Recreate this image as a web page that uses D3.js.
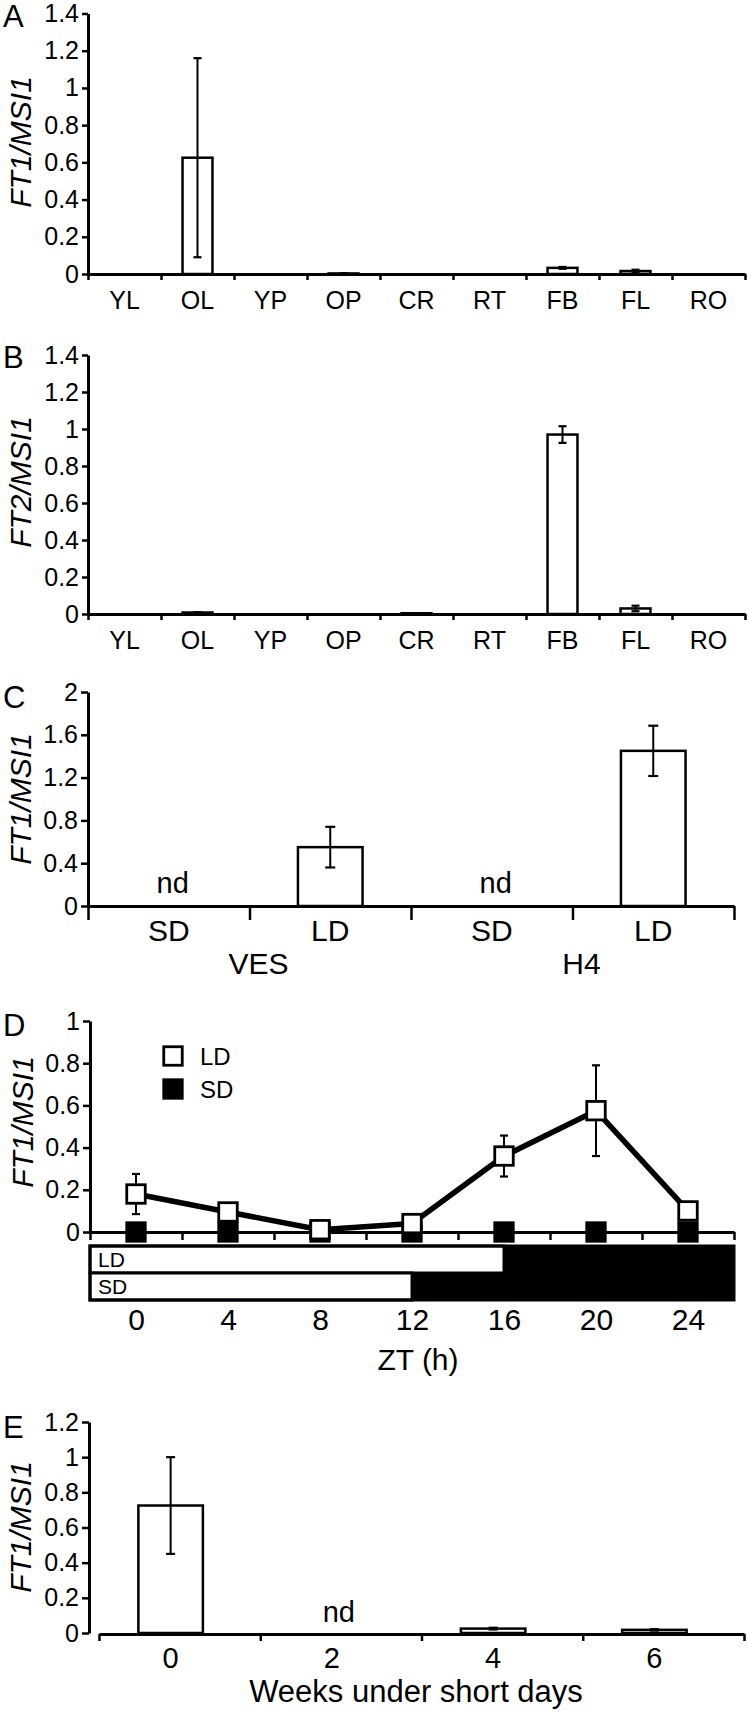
<!DOCTYPE html>
<html><head><meta charset="utf-8">
<script src="https://cdn.jsdelivr.net/npm/d3@7"></script>
<style>
body{margin:0;background:#fff}
svg{display:block}
text{font-family:'Liberation Sans',Arial,Helvetica,sans-serif;fill:#000}
</style>
</head><body><script>
// ---------- data ----------
const tissues = ["YL","OL","YP","OP","CR","RT","FB","FL","RO"];
const ft1Tissue    = [0, 0.625, 0, 0.003, 0, 0, 0.033, 0.016, 0];
const ft1TissueErr = [0, 0.535, 0, 0.001, 0, 0, 0.005, 0.007, 0];
const ft2Tissue    = [0, 0.008, 0, 0, 0.004, 0, 0.97, 0.03, 0];
const ft2TissueErr = [0, 0.002, 0, 0, 0.001, 0, 0.045, 0.015, 0];
const ticksAB = [0,0.2,0.4,0.6,0.8,1,1.2,1.4];

const photoCats   = ["SD","LD","SD","LD"];
const photoGroups = ["VES","H4"];
const ft1Photo    = [null, 0.55, null, 1.45];   // null = nd
const ft1PhotoErr = [0, 0.19, 0, 0.235];
const ticksC = [0,0.4,0.8,1.2,1.6,2];

const ztHours  = [0,4,8,12,16,20,24];
const ldValues = [0.18, 0.095, 0.011, 0.04, 0.36, 0.575, 0.1];
const ldErr    = [0.095, 0.01, 0.005, 0.01, 0.097, 0.215, 0.005];
const sdValues = [0, 0, 0, 0, 0, 0, 0];
const ticksD = [0,0.2,0.4,0.6,0.8,1];
const ztMinorTicks = [-2,2,6,10,14,18,22,26];
const photoNames = ["LD","SD"];
const lightHours = [16, 12];

const weeks       = ["0","2","4","6"];
const ft1Weeks    = [0.725, null, 0.025, 0.018];
const ft1WeeksErr = [0.275, 0, 0.005, 0.004];
const ticksE = [0,0.2,0.4,0.6,0.8,1,1.2];

// ---------- setup ----------
const W = 747, H = 1711;
const svg = d3.select("body").append("svg").attr("width", W).attr("height", H);
svg.append("rect").attr("width", W).attr("height", H).attr("fill", "#fff");
const fmt = d => String(+d.toFixed(1));

function styleAxis(g, domainW, tickW, fs) {
  g.attr("font-family", null).attr("font-size", null);
  g.select(".domain").attr("stroke", "#000").attr("stroke-width", domainW);
  g.selectAll(".tick line").attr("stroke", "#000").attr("stroke-width", tickW);
  g.selectAll(".tick text").attr("font-size", fs).attr("fill", "#000");
  return g;
}
function leftAxis(y, ticks, xPos, fs, tick) {
  const g = svg.append("g").attr("transform", `translate(${xPos},0)`)
    .call(d3.axisLeft(y).tickValues(ticks).tickFormat(fmt).tickSize(tick).tickSizeOuter(0).tickPadding(3));
  return styleAxis(g, 3, 2.5, fs);
}
function boundaryAxis(xb, values, yPos, len) {
  const g = svg.append("g").attr("transform", `translate(0,${yPos})`)
    .call(d3.axisBottom(xb).tickValues(values).tickFormat("").tickSize(len).tickSizeOuter(0));
  return styleAxis(g, 3, 2.5, 10);
}
function labelAxis(scale, yPos, pad, fs, format, values) {
  const ax = d3.axisBottom(scale).tickSize(0).tickPadding(pad);
  if (format) ax.tickFormat(format);
  if (values) ax.tickValues(values);
  const g = svg.append("g").attr("transform", `translate(0,${yPos})`).call(ax);
  g.select(".domain").remove();
  return styleAxis(g, 0, 0, fs);
}
function yTitle(txt, x, y) {
  svg.append("text").attr("transform", `translate(${x},${y}) rotate(-90)`)
    .attr("text-anchor", "middle").attr("font-size", 30).style("font-style", "italic").text(txt);
}
function letter(txt, y) {
  svg.append("text").attr("x", 3).attr("y", y).attr("font-size", 31).text(txt);
}
function bars(band, cats, vals, errs, y, cap) {
  const g = svg.append("g");
  cats.forEach((c, i) => {
    const v = vals[i];
    if (v === null || v === 0) return;
    g.append("rect").attr("x", band(c)).attr("width", band.bandwidth())
      .attr("y", y(v)).attr("height", Math.max(0.1, y(0) - y(v)))
      .attr("fill", "#fff").attr("stroke", "#000").attr("stroke-width", 2.5);
  });
  cats.forEach((c, i) => {
    const v = vals[i], e = errs[i];
    if (v === null || !e) return;
    const cx = band(c) + band.bandwidth() / 2;
    g.append("line").attr("x1", cx).attr("x2", cx).attr("y1", y(v - e)).attr("y2", y(v + e))
      .attr("stroke", "#000").attr("stroke-width", 2);
    [v - e, v + e].forEach(t => g.append("line").attr("x1", cx - cap / 2).attr("x2", cx + cap / 2)
      .attr("y1", y(t)).attr("y2", y(t)).attr("stroke", "#000").attr("stroke-width", 2.2));
  });
}

// ---------- Panel A & B ----------
function tissuePanel(vals, errs, yTop, y0, title, titleY, let, letY) {
  const x0 = 88, x1 = 745;
  const y = d3.scaleLinear().domain([0, 1.4]).range([y0, yTop]);
  const band = d3.scaleBand().domain(tissues).range([x0, x1]).paddingInner(0.59).paddingOuter(0.295);
  const xb = d3.scaleLinear().domain([0, tissues.length]).range([x0, x1]);
  bars(band, tissues, vals, errs, y, 8);
  leftAxis(y, ticksAB, x0, 25, 6);
  boundaryAxis(xb, d3.range(tissues.length + 1), y0, 6);
  labelAxis(band, y0, 17, 25);
  yTitle(title, 31, titleY);
  letter(let, letY);
}
tissuePanel(ft1Tissue, ft1TissueErr, 13.5, 274, "FT1/MSI1", 142, "A", 27);
tissuePanel(ft2Tissue, ft2TissueErr, 355, 614, "FT2/MSI1", 482, "B", 368);

// ---------- Panel C ----------
(function () {
  const x0 = 88, x1 = 734, y0 = 906, yTop = 692;
  const y = d3.scaleLinear().domain([0, 2]).range([y0, yTop]);
  const idx = d3.range(photoCats.length).map(String);
  const band = d3.scaleBand().domain(idx).range([x0, x1]).paddingInner(0.6).paddingOuter(0.3);
  const xb = d3.scaleLinear().domain([0, photoCats.length]).range([x0, x1]);
  bars(band, idx, ft1Photo, ft1PhotoErr, y, 10);
  idx.forEach((c, i) => {
    if (ft1Photo[i] === null)
      svg.append("text").attr("x", band(c) + band.bandwidth() / 2 + 4).attr("y", y0 - 13)
        .attr("text-anchor", "middle").attr("font-size", 29).text("nd");
  });
  leftAxis(y, ticksC, x0, 25, 7);
  boundaryAxis(xb, d3.range(photoCats.length + 1), y0, 14);
  labelAxis(band, y0, 13.5, 30, i => photoCats[+i]);
  photoGroups.forEach((gname, k) => {
    const cx = xb(k * 2 + 1);
    svg.append("text").attr("x", cx + 9).attr("y", 974).attr("text-anchor", "middle")
      .attr("font-size", 30).text(gname);
  });
  yTitle("FT1/MSI1", 31, 799);
  letter("C", 708);
})();

// ---------- Panel D ----------
(function () {
  const y0 = 1232, yTop = 1021;
  const x = d3.scaleLinear().domain([-2, 26]).range([90, 734]);
  const y = d3.scaleLinear().domain([0, 1]).range([y0, yTop]);
  const sq = 18.5;
  // SD squares (behind)
  svg.append("g").selectAll("rect").data(ztHours).join("rect")
    .attr("x", (h) => x(h) - sq / 2).attr("y", (h, i) => y(sdValues[i]) - sq / 2)
    .attr("width", sq).attr("height", sq).attr("fill", "#000").attr("stroke", "#000").attr("stroke-width", 2.8);
  leftAxis(y, ticksD, 90, 25, 7);
  boundaryAxis(x, ztMinorTicks, y0, 8);
  // LD line
  const line = d3.line().x((d) => x(d[0])).y((d) => y(d[1]));
  svg.append("path").datum(ztHours.map((h, i) => [h, ldValues[i]])).attr("d", line)
    .attr("fill", "none").attr("stroke", "#000").attr("stroke-width", 5.5).attr("stroke-linejoin", "round");
  // error bars
  ztHours.forEach((h, i) => {
    const v = ldValues[i], e = ldErr[i], cx = x(h);
    svg.append("line").attr("x1", cx).attr("x2", cx).attr("y1", y(v - e)).attr("y2", y(v + e))
      .attr("stroke", "#000").attr("stroke-width", 2);
    [v - e, v + e].forEach(t => svg.append("line").attr("x1", cx - 4).attr("x2", cx + 4)
      .attr("y1", y(t)).attr("y2", y(t)).attr("stroke", "#000").attr("stroke-width", 2.2));
  });
  svg.append("g").selectAll("rect").data(ztHours).join("rect")
    .attr("x", (h) => x(h) - sq / 2).attr("y", (h, i) => y(ldValues[i]) - sq / 2)
    .attr("width", sq).attr("height", sq).attr("fill", "#fff").attr("stroke", "#000").attr("stroke-width", 2.8);
  // legend
  [["LD", "#fff", 1056], ["SD", "#000", 1089]].forEach(([t, f, cy]) => {
    svg.append("rect").attr("x", 173 - sq / 2).attr("y", cy - sq / 2).attr("width", sq).attr("height", sq)
      .attr("fill", f).attr("stroke", "#000").attr("stroke-width", 2.8);
    svg.append("text").attr("x", 200).attr("y", cy + 8.5).attr("font-size", 24).text(t);
  });
  // photoperiod bars
  const rows = d3.scaleBand().domain(photoNames).range([1246, 1300]);
  photoNames.forEach((n, i) => {
    svg.append("rect").attr("x", x(-2)).attr("y", rows(n)).attr("width", x(26) - x(-2))
      .attr("height", rows.bandwidth()).attr("fill", "#000");
    svg.append("rect").attr("x", x(-2)).attr("y", rows(n)).attr("width", x(lightHours[i]) - x(-2))
      .attr("height", rows.bandwidth()).attr("fill", "#fff").attr("stroke", "#000").attr("stroke-width", 3);
    svg.append("text").attr("x", 98).attr("y", rows(n) + rows.bandwidth() / 2 + 7.5)
      .attr("font-size", 21).text(n);
  });
  svg.append("rect").attr("x", x(-2)).attr("y", 1246).attr("width", x(26) - x(-2)).attr("height", 54)
    .attr("fill", "none").attr("stroke", "#000").attr("stroke-width", 3);
  labelAxis(x, 1300, 8.5, 30, d => String(d), ztHours);
  svg.append("text").attr("x", 418).attr("y", 1370).attr("text-anchor", "middle").attr("font-size", 30).text("ZT (h)");
  yTitle("FT1/MSI1", 33, 1122);
  letter("D", 1036);
})();

// ---------- Panel E ----------
(function () {
  const y0 = 1633, yTop = 1422;
  const y = d3.scaleLinear().domain([0, 1.2]).range([y0, yTop]);
  const xb = d3.scaleLinear().domain([0, weeks.length]).range([99, 744]);
  // bars/labels sit slightly left of the tick intervals, as in the original
  const band = d3.scaleBand().domain(weeks).range([90, 735]).paddingInner(0.6).paddingOuter(0.3);
  bars(band, weeks, ft1Weeks, ft1WeeksErr, y, 9);
  weeks.forEach((c, i) => {
    if (ft1Weeks[i] === null)
      svg.append("text").attr("x", band(c) + band.bandwidth() / 2 + 7).attr("y", 1622)
        .attr("text-anchor", "middle").attr("font-size", 29).text("nd");
  });
  leftAxis(y, ticksE, 89, 25, 7);
  boundaryAxis(xb, d3.range(weeks.length + 1), y0 + 1, 7);
  labelAxis(band, y0 + 1, 13.4, 29);
  svg.append("text").attr("x", 416).attr("y", 1702).attr("text-anchor", "middle").attr("font-size", 31).text("Weeks under short days");
  yTitle("FT1/MSI1", 31, 1527);
  letter("E", 1438);
})();
</script></body></html>
